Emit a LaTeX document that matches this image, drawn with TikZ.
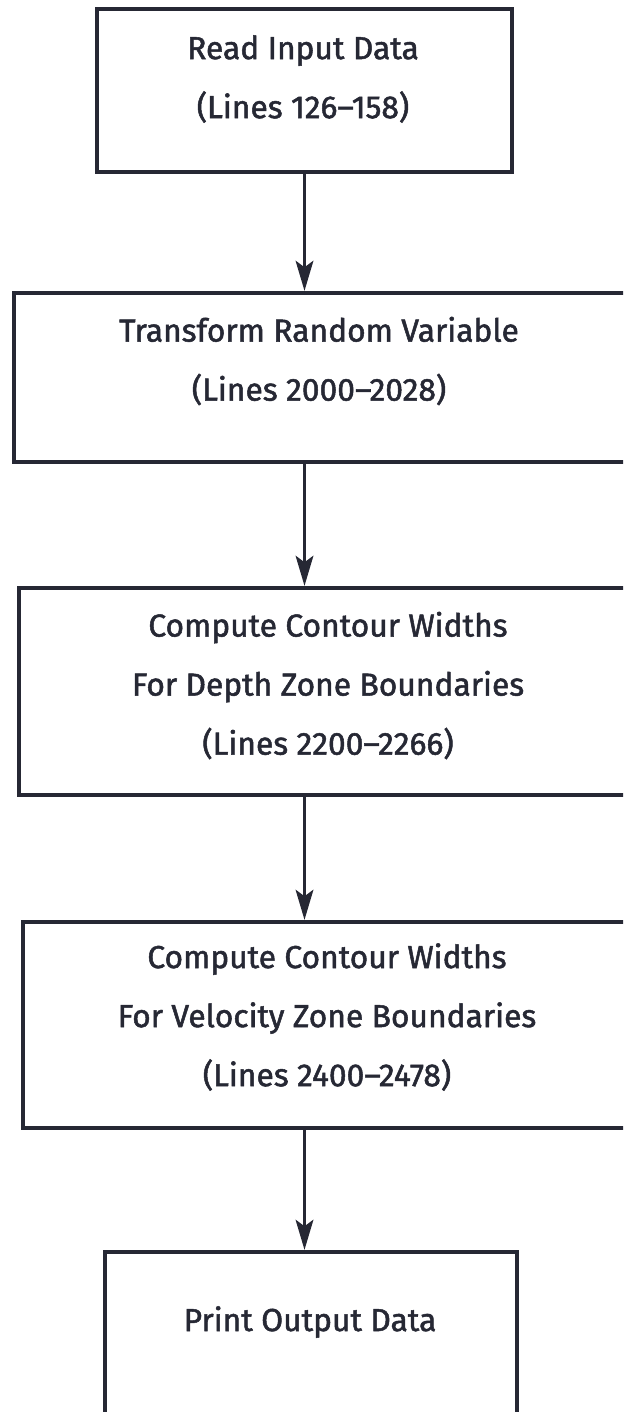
\documentclass[tikz,border=0pt]{standalone}
\usepackage{fontspec}
\setmainfont{Fira Sans}
\newfontfamily\stagefont{Fira Sans}[FakeBold=1.6]
\usepackage{tikz}
\usetikzlibrary{arrows.meta}
\definecolor{ink}{RGB}{38,40,52}

\begin{document}
\begin{tikzpicture}[x=2.5cm, y=2.5cm,
        stage/.style={draw=ink, line width=3pt, rectangle, inner sep=0pt},
        stagetext/.style={align=center, text=ink, font=\stagefont\fontsize{22.6}{42}\selectfont},
        flow/.style={draw=ink, line width=2.6pt, -{Stealth[length=7.5mm, width=4.4mm, inset=1.6mm]}}]
        \useasboundingbox (0.0, 0.0) rectangle (6.23,-14.12);
        \clip (0.0, 0.0) rectangle (6.23,-14.12);

        \node[stage, minimum width=10.375cm, minimum height=4.075cm] (read)      at (3.045, -0.905) {};
        \node[stage, minimum width=15.45cm,  minimum height=4.225cm] (transform) at (3.23,  -3.775) {};
        \node[stage, minimum width=15.325cm, minimum height=5.175cm] (depth)     at (3.255, -6.915) {};
        \node[stage, minimum width=15.225cm, minimum height=5.15cm]  (velocity)  at (3.275,-10.25) {};
        \node[stage, minimum width=10.3cm,   minimum height=4.2cm]   (print)     at (3.11, -13.36) {};

        \node[stagetext] (readtxt)      at (3.03, -0.79) {Read Input Data\\(Lines 126–158)};
        \node[stagetext] (transformtxt) at (3.19, -3.61) {Transform Random Variable\\(Lines 2000–2028)};
        \node[stagetext] (depthtxt)     at (3.28, -6.855) {Compute Contour Widths\\For Depth Zone Boundaries\\(Lines 2200–2266)};
        \node[stagetext] (velocitytxt)  at (3.27,-10.17) {Compute Contour Widths\\For Velocity Zone Boundaries\\(Lines 2400–2478)};
        \node[stagetext] (printtxt)     at (3.10,-13.22) {Print Output Data};

        \draw[flow] (read.south) -- (read.south |- transform.north);
        \draw[flow] (read.south |- transform.south) -- (read.south |- depth.north);
        \draw[flow] (read.south |- depth.south) -- (read.south |- velocity.north);
        \draw[flow] (read.south |- velocity.south) -- (read.south |- print.north);
    \end{tikzpicture}
\end{document}
